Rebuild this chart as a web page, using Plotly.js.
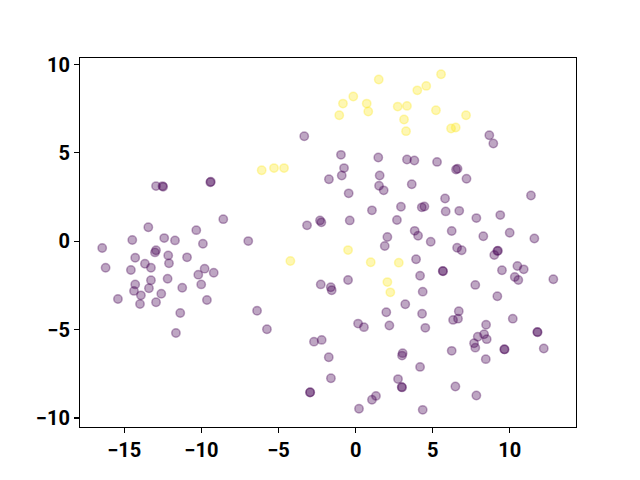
<!DOCTYPE html>
<html>
<head>
<meta charset="utf-8">
<script src="https://cdn.plot.ly/plotly-3.0.1.min.js"></script>
<style>html,body{margin:0;padding:0;background:#fff;}#chart{width:640px;height:480px;}</style>
</head>
<body>
<div id="chart"></div>
<script>
// Class 0 (purple)
const purpleX = [-3.33,-0.95,-0.75,-0.90,-1.73,1.47,1.56,3.33,3.81,5.28,6.51,6.61,7.19,8.67,8.93,
  -12.94,-12.52,-12.48,-9.42,-9.39,-8.58,-13.44,-10.33,-14.48,-12.41,-11.71,-9.90,-6.96,-16.43,-12.94,
  -13.01,-14.29,-12.15,-10.93,-13.66,-13.27,-12.10,-16.21,-14.57,-9.79,-9.20,-10.20,-13.27,-12.19,-14.29,
  -11.24,-10.01,-14.37,-13.40,-13.92,-12.60,-15.41,-13.98,-12.94,-9.64,-11.37,-11.65,
  1.52,1.82,3.64,-0.45,1.06,2.94,2.68,-2.31,-2.22,-3.15,-0.38,2.06,1.89,-2.26,-1.61,-1.55,-0.49,3.22,
  5.80,4.29,4.46,5.84,6.72,7.83,9.38,11.37,3.83,4.05,4.87,6.23,8.28,9.99,11.59,6.58,6.88,9.19,9.23,8.99,
  3.92,5.65,5.67,4.18,4.35,7.76,9.49,10.49,10.90,10.32,10.55,12.82,9.19,
  -6.39,-5.75,-2.70,-2.20,-1.74,-1.60,-2.96,-2.94,0.22,1.06,1.32,0.16,0.54,1.99,2.19,3.05,3.01,2.75,2.99,3.01,
  4.31,4.52,6.69,6.32,6.64,10.19,8.46,11.78,11.80,12.20,9.64,9.66,8.33,7.92,8.50,7.68,7.76,6.23,8.44,4.18,6.47,7.83,4.35];
const purpleY = [5.94,4.89,4.14,3.72,3.51,4.74,3.72,4.63,4.57,4.49,4.06,4.10,3.54,6.00,5.53,
  3.12,3.12,3.08,3.34,3.37,1.25,0.79,0.63,0.07,0.18,0.05,-0.14,0.01,-0.38,-0.51,
  -0.63,-0.93,-0.80,-0.91,-1.27,-1.50,-1.25,-1.50,-1.63,-1.55,-1.78,-1.89,-2.21,-2.12,-2.44,
  -2.63,-2.44,-2.81,-2.66,-3.06,-2.97,-3.27,-3.55,-3.45,-3.32,-4.06,-5.19,
  3.14,2.88,3.23,2.71,1.75,1.95,1.20,1.18,1.07,0.90,1.18,0.24,-0.27,-2.44,-2.60,-2.77,-2.19,-3.56,
  2.42,1.92,1.97,1.69,1.72,1.31,1.48,2.59,0.59,0.31,-0.03,0.58,0.28,0.48,0.16,-0.37,-0.51,-0.55,-0.53,-0.78,
  -1.02,-1.68,-1.70,-1.95,-2.85,-2.47,-1.64,-1.40,-1.59,-2.02,-2.19,-2.15,-3.11,
  -3.93,-4.98,-5.68,-5.58,-6.56,-7.75,-8.56,-8.54,-9.48,-8.97,-8.75,-4.66,-4.86,-4.02,-4.77,-6.33,-6.47,-7.80,-8.25,-8.27,
  -4.10,-4.90,-3.96,-4.45,-4.38,-4.38,-4.72,-5.13,-5.15,-6.07,-6.11,-6.12,-5.26,-5.40,-5.54,-5.77,-6.02,-6.20,-6.67,-7.11,-8.22,-8.73,-9.54];
// Class 1 (yellow)
const yellowX = [1.50,-0.15,-0.82,0.72,0.82,-1.06,2.73,3.33,3.14,3.27,-6.09,-5.29,-4.64,4.00,4.58,5.54,5.21,7.16,6.19,6.49,-4.23,-0.49,0.98,2.80,2.06,2.25];
const yellowY = [9.15,8.19,7.79,7.79,7.34,7.13,7.62,7.66,6.89,6.23,4.02,4.14,4.14,8.54,8.79,9.45,7.41,7.13,6.38,6.44,-1.12,-0.50,-1.19,-1.21,-2.31,-2.89];
const xTicks = [-15,-10,-5,0,5,10];
const yTicks = [-10,-5,0,5,10];

function trace(x, y, rgb) {
  return {
    x: x, y: y, type: 'scatter', mode: 'markers', hoverinfo: 'none',
    marker: {size: 8.4, color: 'rgba(' + rgb + ',0.35)', line: {width: 1.5, color: 'rgba(' + rgb + ',0.35)'}}
  };
}
const axisBase = {
  showline: true, mirror: true, linecolor: '#000', linewidth: 1.1,
  ticks: 'outside', ticklen: 5, tickwidth: 1.1, tickcolor: '#000',
  showgrid: false, zeroline: false,
  tickfont: {family: 'Roboto', size: 20, color: '#000', weight: 'bold'}
};
const layout = {
  width: 640, height: 480,
  margin: {l: 80, r: 64, t: 58, b: 53, pad: 0},
  paper_bgcolor: '#fff', plot_bgcolor: '#fff',
  showlegend: false,
  xaxis: Object.assign({}, axisBase, {range: [-17.87, 14.29], tickmode: 'array', tickvals: xTicks, ticktext: xTicks.map(v => v < 0 ? '\u2212' + Math.abs(v) : String(v))}),
  yaxis: Object.assign({}, axisBase, {range: [-10.51, 10.37], tickmode: 'array', tickvals: yTicks, ticktext: yTicks.map(v => v < 0 ? '\u2212' + Math.abs(v) : String(v))})
};
Plotly.newPlot('chart', [trace(purpleX, purpleY, '68,1,84'), trace(yellowX, yellowY, '253,231,37')], layout, {staticPlot: true});
</script>
</body>
</html>
